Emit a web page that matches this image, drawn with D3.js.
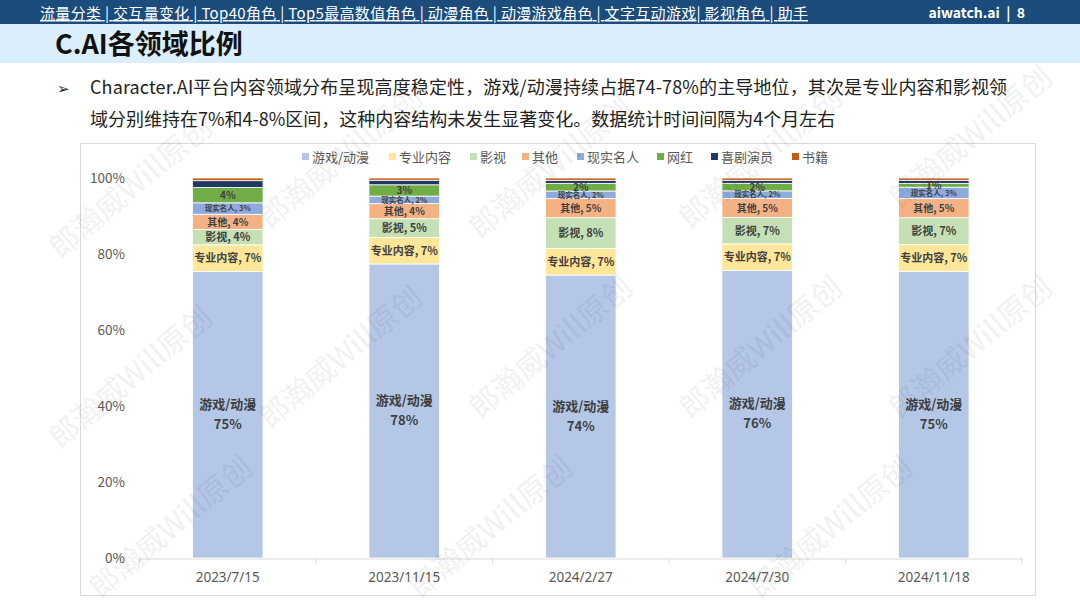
<!DOCTYPE html>
<html>
<head>
<meta charset="utf-8">
<script src="https://cdn.jsdelivr.net/npm/d3@7"></script>
<style>
  body { margin: 0; background: #fff; }
  svg { display: block; font-family: "Noto Sans CJK SC", "Noto Sans", sans-serif; }
</style>
</head>
<body>
<div class="responsive-svg-container"></div>
<script>
// data
const dates = ["2023/7/15", "2023/11/15", "2024/2/27", "2024/7/30", "2024/11/18"];
const seriesNames = ["游戏/动漫", "专业内容", "影视", "其他", "现实名人", "网红", "喜剧演员", "书籍"];
const seriesColors = ["#B4C7E7", "#FFE699", "#C5E0B4", "#F4B183", "#8FAADC", "#70AD47", "#203864", "#C55A11"];
const game    = [75, 78, 74, 76, 75];
const pro     = [7, 7, 7, 7, 7];
const film    = [4, 5, 8, 7, 7];
const other   = [4, 4, 5, 5, 5];
const celeb   = [3, 2, 2, 2, 3];
const influ   = [4, 3, 2, 2, 1];
const comedy  = [1.8, 1.2, 0.8, 0.8, 0.8];
const books   = [0.7, 0.6, 0.6, 0.6, 0.6];
const yTicks  = [0, 20, 40, 60, 80, 100];
const navLinks = "流量分类 | 交互量变化 | Top40角色 | Top5最高数值角色 | 动漫角色 | 动漫游戏角色 | 文字互动游戏| 影视角色 | 助手";

const seriesVals = [game, pro, film, other, celeb, influ, comedy, books];

const svg = d3.select(".responsive-svg-container")
  .append("svg")
    .attr("width", 1080)
    .attr("height", 608)
    .attr("viewBox", "0 0 1080 608");

// header
svg.append("rect").attr("x", 0).attr("y", 0).attr("width", 1080).attr("height", 24).attr("fill", "#1B4C7C");
svg.append("rect").attr("x", 0).attr("y", 24).attr("width", 1080).attr("height", 39).attr("fill", "#DAEEFB");
svg.append("text")
  .text(navLinks)
  .attr("x", 40).attr("y", 19)
  .attr("fill", "#fff")
  .attr("text-decoration", "underline")
  .attr("textLength", 768)
  .style("font-size", "15px");
svg.append("text")
  .text("aiwatch.ai  |  8")
  .attr("x", 1025).attr("y", 18)
  .attr("text-anchor", "end")
  .attr("fill", "#fff")
  .attr("xml:space", "preserve")
  .style("white-space", "pre")
  .style("font-weight", "bold")
  .style("font-size", "14px");
svg.append("text")
  .text("C.AI各领域比例")
  .attr("x", 55).attr("y", 54)
  .attr("fill", "#111")
  .style("font-weight", "bold")
  .style("font-size", "27px");

// bullet text
svg.append("text").text("➢").attr("x", 57).attr("y", 94).style("font-size", "15px").attr("fill", "#222");
svg.append("text")
  .text("Character.AI平台内容领域分布呈现高度稳定性，游戏/动漫持续占据74-78%的主导地位，其次是专业内容和影视领")
  .attr("x", 90).attr("y", 94)
  .attr("fill", "#222")
  .attr("textLength", 917)
  .style("font-size", "18px");
svg.append("text")
  .text("域分别维持在7%和4-8%区间，这种内容结构未发生显著变化。数据统计时间间隔为4个月左右")
  .attr("x", 90).attr("y", 126)
  .attr("fill", "#222")
  .style("font-size", "18px");

// chart frame
svg.append("rect")
  .attr("x", 80.5).attr("y", 143.5).attr("width", 955).attr("height", 452)
  .attr("fill", "#fff").attr("stroke", "#D9D9D9");

// stacked table
const table = dates.map((d, i) => {
  const row = { date: d };
  seriesNames.forEach((s, j) => row[s] = seriesVals[j][i]);
  return row;
});
const stack = d3.stack().keys(seriesNames).offset(d3.stackOffsetExpand);
const stacked = stack(table);

const xScale = d3.scaleBand()
  .domain(dates)
  .range([139.5, 1022])
  .paddingInner(0.6)
  .paddingOuter(0.3);

const yScale = d3.scaleLinear()
  .domain([0, 1])
  .range([558, 178]);

const color = d3.scaleOrdinal().domain(seriesNames).range(seriesColors);

// y axis labels
svg.append("g")
  .selectAll("text")
  .data(yTicks)
  .join("text")
    .text(d => d + "%")
    .attr("x", 125)
    .attr("y", d => yScale(d / 100) + 5)
    .attr("text-anchor", "end")
    .attr("fill", "#595959")
    .style("font-size", "13.5px");

// x axis
const xAxis = svg.append("g")
  .attr("transform", "translate(0,558.5)")
  .call(d3.axisBottom(xScale).tickSize(0).tickPadding(14));
xAxis.select(".domain").attr("stroke", "#D9D9D9");
xAxis.selectAll("text")
  .attr("fill", "#595959")
  .style("font-family", "\"Noto Sans\", sans-serif")
  .style("font-size", "13.5px");
const step = xScale.step();
xAxis.selectAll(".sep")
  .data(d3.range(dates.length + 1))
  .join("line")
    .attr("x1", i => xScale(dates[0]) - (step - xScale.bandwidth()) / 2 + i * step)
    .attr("x2", i => xScale(dates[0]) - (step - xScale.bandwidth()) / 2 + i * step)
    .attr("y1", 0).attr("y2", 5)
    .attr("stroke", "#D9D9D9");

// bars
const layer = svg.append("g")
  .selectAll("g")
  .data(stacked)
  .join("g")
    .attr("fill", d => color(d.key));

layer.selectAll("rect")
  .data(d => d.map(p => ({ key: d.key, p })))
  .join("rect")
    .attr("x", d => xScale(d.p.data.date))
    .attr("width", xScale.bandwidth())
    .attr("y", d => yScale(d.p[1]))
    .attr("height", d => Math.max(0, yScale(d.p[0]) - yScale(d.p[1])))
    .attr("stroke", "#fff")
    .attr("stroke-width", 0.8);

// data labels
const labelSize = { "游戏/动漫": 13, "专业内容": 11, "影视": 11, "其他": 10, "现实名人": 7.5, "网红": 10 };
stacked.forEach((s, si) => {
  if (!(s.key in labelSize)) return;
  s.forEach((p, i) => {
    const cx = xScale(p.data.date) + xScale.bandwidth() / 2;
    const cy = (yScale(p[0]) + yScale(p[1])) / 2;
    const v = seriesVals[si][i];
    const size = labelSize[s.key];
    const t = svg.append("text")
      .attr("x", cx)
      .attr("text-anchor", "middle")
      .attr("fill", "#404040")
      .style("font-weight", "bold")
      .style("font-size", size + "px");
    if (s.key === "游戏/动漫") {
      t.attr("y", cy - 6);
      t.append("tspan").attr("x", cx).text(s.key);
      t.append("tspan").attr("x", cx).attr("dy", 20).text(v + "%");
    } else if (s.key === "网红") {
      t.attr("y", cy + size * 0.36).text(v + "%");
    } else {
      t.attr("y", cy + size * 0.36).text(s.key + ", " + v + "%");
    }
  });
});

// legend
const legendX = [302, 389, 470, 522, 577, 657, 711, 792];
const legend = svg.append("g")
  .selectAll("g")
  .data(seriesNames)
  .join("g")
    .attr("transform", (d, i) => `translate(${legendX[i]}, 157)`);
legend.append("rect")
  .attr("x", 0).attr("y", -4)
  .attr("width", 7).attr("height", 7)
  .attr("fill", d => color(d));
legend.append("text")
  .text(d => d)
  .attr("x", 10).attr("y", 5)
  .attr("fill", "#595959")
  .style("font-size", "13px");

// watermark
const wmPos = [[60, 260], [270, 230], [480, 240], [690, 230], [900, 210], [60, 450], [270, 430], [480, 420], [690, 420], [900, 420], [100, 600], [420, 600], [760, 600]];
svg.append("g")
  .selectAll("text")
  .data(wmPos)
  .join("text")
    .text("郎瀚威Will原创")
    .attr("transform", d => `translate(${d[0]},${d[1]}) rotate(-40)`)
    .attr("fill", "#000")
    .attr("opacity", 0.05)
    .style("font-size", "30px");
</script>
</body>
</html>
